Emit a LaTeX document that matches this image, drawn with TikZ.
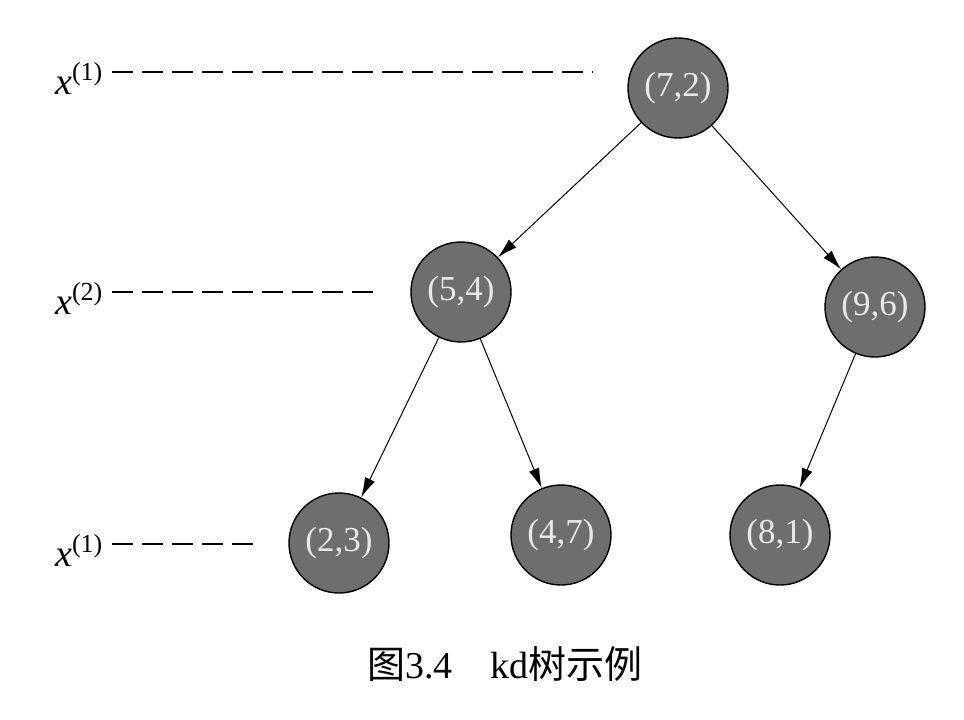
\documentclass[tikz,border=0pt]{standalone}
\usepackage{fontspec}
\setmainfont{Liberation Serif}
\newfontfamily\cjk{Noto Sans CJK SC}
\usepackage{tikz}
\usetikzlibrary{arrows.meta}
\definecolor{kdFill}{HTML}{6E6E6E}
\definecolor{kdText}{HTML}{E8E8E8}
\newcommand{\kdsplit}[1]{\textit{x}\raisebox{14pt}{\fontsize{26}{26}\selectfont(#1)}}
\tikzset{
  kdNode/.style={
    circle,
    draw=black,
    fill=kdFill,
    line width=1.4pt,
    minimum size=100pt,
    inner sep=0pt,
    text=kdText,
    font=\fontsize{35}{35}\selectfont
  },
  kdLevel/.style={
    anchor=west,
    inner sep=0pt,
    font=\fontsize{38}{38}\selectfont
  },
  kdDash/.style={
    draw=black,
    line width=2pt,
    dash pattern=on 21pt off 9pt
  },
  kdArrow/.style={
    -{Latex[length=20pt,width=11pt]},
    draw=black,
    line width=1pt
  }
}
\begin{document}
\begin{tikzpicture}[x=1pt,y=-1pt]
\useasboundingbox (0,0) rectangle (964,720);
% tree nodes
\node[kdNode] (n72) at (678,88) {(7,2)};
\node[kdNode] (n54) at (461,292) {(5,4)};
\node[kdNode] (n96) at (875,307) {(9,6)};
\node[kdNode] (n23) at (339,543) {(2,3)};
\node[kdNode] (n47) at (561,535) {(4,7)};
\node[kdNode] (n81) at (780,535) {(8,1)};

% split levels
\node[kdLevel] (lvlA) at (55,78) {\kdsplit{1}};
\node[kdLevel] (lvlB) at (55,298) {\kdsplit{2}};
\node[kdLevel] (lvlC) at (55,550) {\kdsplit{1}};
\coordinate (endA) at (592,72);
\coordinate (endB) at (376,292);
\coordinate (endC) at (260,544);
\draw[kdDash] ([xshift=9pt]lvlA.east |- endA) -- (endA);
\draw[kdDash] ([xshift=9pt]lvlB.east |- endB) -- (endB);
\draw[kdDash] ([xshift=9pt]lvlC.east |- endC) -- (endC);

% edges
\draw[kdArrow] (n72) -- (n54);
\draw[kdArrow] (n72) -- (n96);
\draw[kdArrow] (n54) -- (n23);
\draw[kdArrow] (n54) -- (n47);
\draw[kdArrow] (n96) -- (n81);

\node[font=\fontsize{38}{38}\selectfont] (caption) at (505,664)
  {{\cjk 图}3.4\quad kd{\cjk 树示例}};
\end{tikzpicture}
\end{document}
